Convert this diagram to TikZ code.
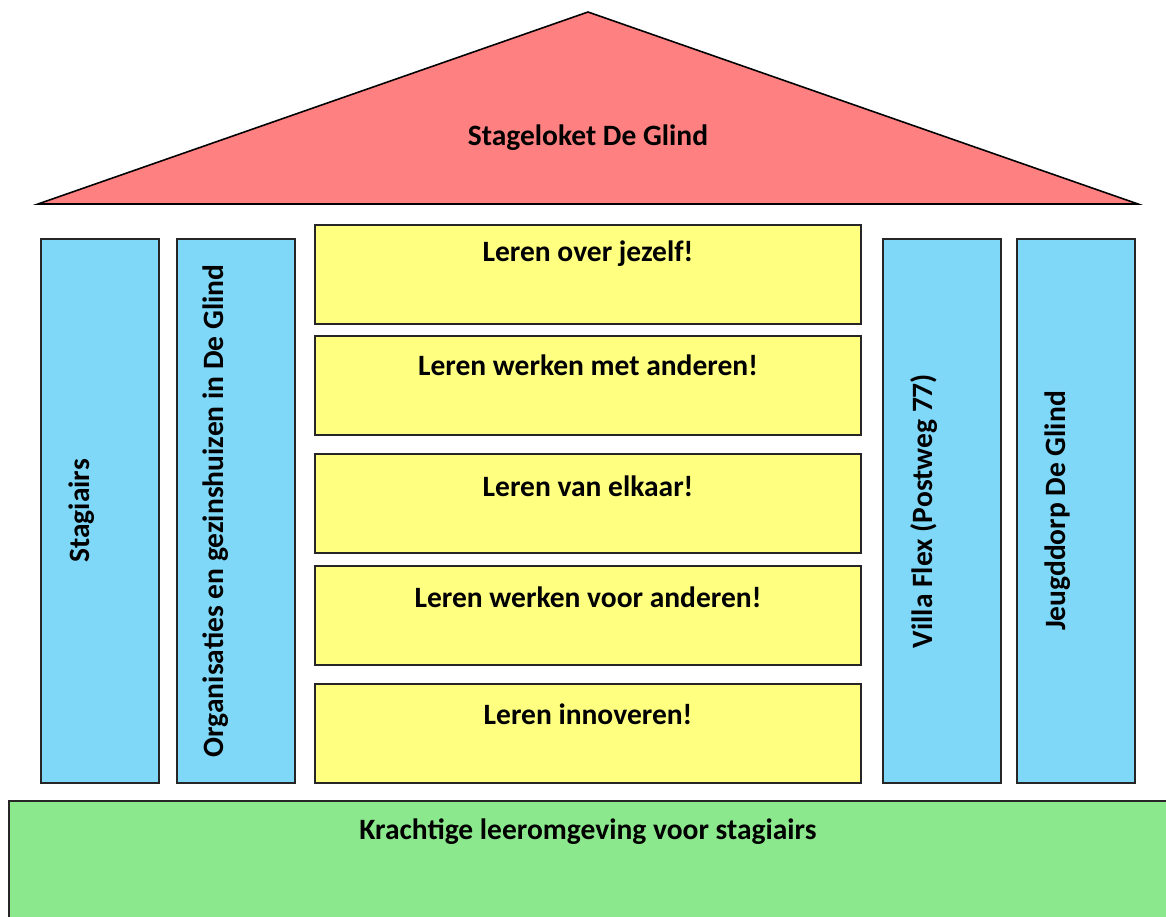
\documentclass[tikz,border=0pt]{standalone}
\usepackage{fontspec}
\setmainfont{Carlito}
\usetikzlibrary{positioning}
\definecolor{roofred}{RGB}{255,128,128}
\definecolor{pillarblue}{RGB}{128,216,248}
\definecolor{beamyellow}{RGB}{255,255,128}
\definecolor{basegreen}{RGB}{140,232,140}
\begin{document}
\begin{tikzpicture}[
  x=0.02cm, y=-0.02cm,
  pillar/.style={rectangle, draw=black!85, line width=0.8pt, fill=pillarblue, inner sep=0pt, minimum width=2.36cm, minimum height=10.88cm},
  beam/.style={rectangle, draw=black!85, line width=0.8pt, fill=beamyellow, inner sep=0pt, minimum width=10.92cm, minimum height=1.98cm},
  lbl/.style={font=\fontsize{16.8}{20}\selectfont\bfseries, inner sep=0pt},
  vlbl/.style={lbl, rotate=90}
]
\useasboundingbox (0,0) rectangle (1166,916);

% Roof
\filldraw[fill=roofred, draw=black, line width=0.9pt] (38,204) -- (588,12) -- (1138,204) -- cycle;
\node[lbl] (roof) at (588,138) {Stageloket De Glind};

% Pillars
\node[pillar] (p1) at (100,511) {};
\node[pillar] (p2) at (236,511) {};
\node[pillar] (p3) at (942,511) {};
\node[pillar] (p4) at (1076,511) {};

\node[vlbl] (p1_lbl) at ([xshift=-0.36cm]p1.center) {Stagiairs};
\node[vlbl] (p2_lbl) at ([xshift=-0.40cm]p2.center) {Organisaties en gezinshuizen in De Glind};
\node[vlbl] (p3_lbl) at ([xshift=-0.36cm]p3.center) {Villa Flex (Postweg 77)};
\node[vlbl] (p4_lbl) at ([xshift=-0.36cm]p4.center) {Jeugddorp De Glind};

% Middle beams
\node[beam] (b1) at (588,274.5) {};
\node[beam] (b2) at (588,385.5) {};
\node[beam] (b3) at (588,503.5) {};
\node[beam] (b4) at (588,615.5) {};
\node[beam] (b5) at (588,733.5) {};

\node[lbl] (b1_lbl) at ([yshift=-0.58cm]b1.north) {Leren over jezelf!};
\node[lbl] (b2_lbl) at ([yshift=-0.60cm]b2.north) {Leren werken met anderen!};
\node[lbl] (b3_lbl) at ([yshift=-0.66cm]b3.north) {Leren van elkaar!};
\node[lbl] (b4_lbl) at ([yshift=-0.64cm]b4.north) {Leren werken voor anderen!};
\node[lbl] (b5_lbl) at ([yshift=-0.62cm]b5.north) {Leren innoveren!};

% Foundation
\filldraw[fill=basegreen, draw=black!85, line width=0.8pt] (9,801) rectangle (1190,940);
\node[lbl] (base) at (588,832) {Krachtige leeromgeving voor stagiairs};

\end{tikzpicture}
\end{document}
